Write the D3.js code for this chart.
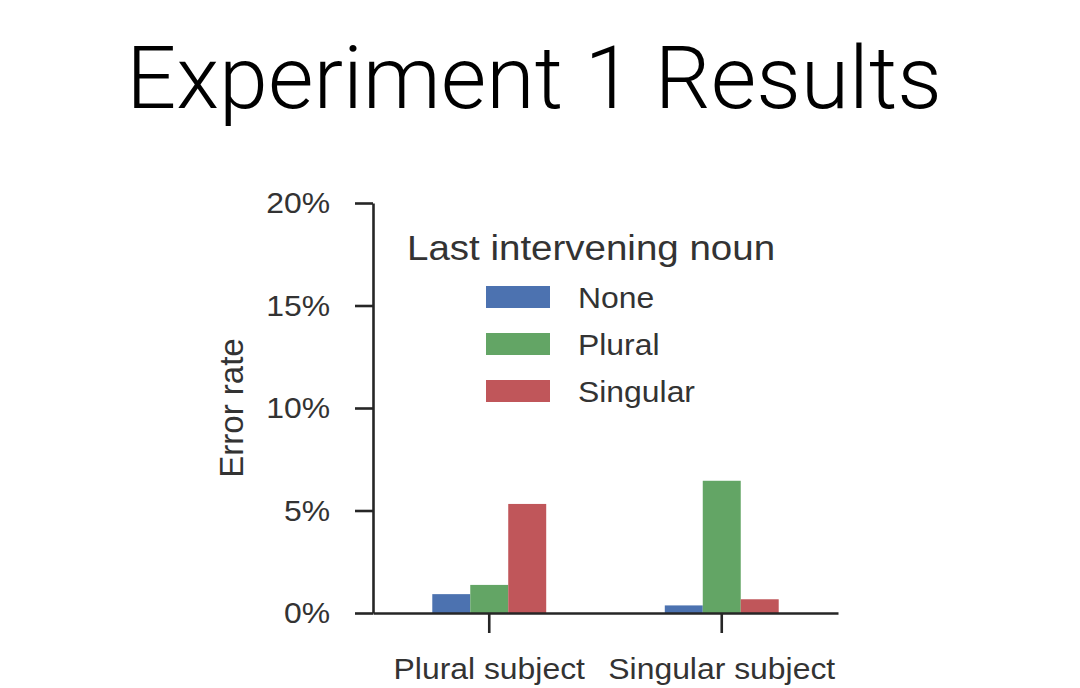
<!DOCTYPE html>
<html>
<head>
<meta charset="utf-8">
<script src="https://cdn.jsdelivr.net/npm/d3@7"></script>
<style>
  html, body { margin: 0; padding: 0; background: #ffffff; }
  svg { display: block; }
</style>
</head>
<body>
<svg id="chart" width="1080" height="688"></svg>
<script>
// ---- data ----
const title = "Experiment 1 Results";
const categories = ["Plural subject", "Singular subject"];
const seriesNames = ["None", "Plural", "Singular"];
const noneValues = [0.0092, 0.0037];
const pluralValues = [0.0137, 0.0645];
const singularValues = [0.0532, 0.0067];
const yTicks = [0, 0.05, 0.10, 0.15, 0.20];
const yTickLabels = ["0%", "5%", "10%", "15%", "20%"];
const yLabel = "Error rate";
const legendTitle = "Last intervening noun";
const colors = ["#4c72b0", "#63a565", "#c0565a"];

const seriesValues = [noneValues, pluralValues, singularValues];

// ---- layout ----
const svg = d3.select("#chart");
const inkColor = "#262626";
const font = "'Liberation Sans', Arial, sans-serif";
const sx = 1.1; // horizontal stretch of the source image text
const plot = { left: 373, right: 838, top: 203, bottom: 613 };

svg.append("text")
  .attr("x", 534).attr("y", 108)
  .attr("text-anchor", "middle")
  .attr("font-family", "Roboto, 'Liberation Sans', sans-serif")
  .attr("font-weight", 300)
  .attr("font-size", 88)
  .attr("fill", "#000")
  .text(title);

const x0 = d3.scaleBand().domain(categories).range([plot.left, plot.right]).padding(0);
const x1 = d3.scaleBand().domain(seriesNames).range([-x0.bandwidth() * 0.245, x0.bandwidth() * 0.245]).padding(0);
const y = d3.scaleLinear().domain([0, 0.20]).range([plot.bottom, plot.top]);

// bars
const groups = svg.append("g").selectAll("g")
  .data(categories).join("g")
  .attr("transform", d => `translate(${x0(d) + x0.bandwidth() / 2},0)`);

groups.selectAll("rect")
  .data((c, ci) => seriesNames.map((s, si) => ({ s, si, v: seriesValues[si][ci] })))
  .join("rect")
  .attr("x", d => x1(d.s))
  .attr("width", x1.bandwidth())
  .attr("y", d => y(d.v))
  .attr("height", d => y(0) - y(d.v))
  .attr("fill", d => colors[d.si]);

// y axis
const yAxis = d3.axisLeft(y).tickValues(yTicks)
  .tickFormat((d, i) => yTickLabels[i]).tickSize(18).tickSizeOuter(0);
const gy = svg.append("g").attr("transform", `translate(${plot.left},0)`).call(yAxis);
gy.select(".domain").attr("stroke", inkColor).attr("stroke-width", 2.6);
gy.selectAll(".tick line").attr("stroke", inkColor).attr("stroke-width", 2.6);
gy.selectAll(".tick text")
  .attr("font-family", font).attr("font-size", 29).attr("fill", "#333")
  .attr("x", -43 / sx).attr("dy", "0.33em")
  .attr("transform", `scale(${sx},1)`);

// x axis
const xAxis = d3.axisBottom(x0).tickSize(20).tickSizeOuter(0);
const gx = svg.append("g").attr("transform", `translate(0,${plot.bottom})`).call(xAxis);
gx.select(".domain").attr("stroke", inkColor).attr("stroke-width", 2.6);
gx.selectAll(".tick line").attr("stroke", inkColor).attr("stroke-width", 2.6);
gx.selectAll(".tick text")
  .attr("font-family", font).attr("font-size", 29).attr("fill", "#333")
  .attr("y", 66).attr("dy", 0)
  .attr("transform", `scale(${sx},1)`);

// y label
svg.append("text")
  .attr("transform", `translate(243,408) rotate(-90)`)
  .attr("text-anchor", "middle")
  .attr("font-family", font).attr("font-size", 33).attr("fill", "#333")
  .text(yLabel);

// legend
const legend = svg.append("g");
legend.append("text")
  .attr("transform", `translate(407,260) scale(${sx},1)`)
  .attr("font-family", font).attr("font-size", 35).attr("fill", "#333")
  .text(legendTitle);

const items = legend.selectAll("g.item").data(seriesNames).join("g")
  .attr("class", "item")
  .attr("transform", (d, i) => `translate(486,${297 + i * 47})`);
items.append("rect")
  .attr("x", 0).attr("y", -11).attr("width", 64).attr("height", 22)
  .attr("fill", (d, i) => colors[i]);
items.append("text")
  .attr("transform", `translate(92,11) scale(${sx},1)`)
  .attr("font-family", font).attr("font-size", 29).attr("fill", "#333")
  .text(d => d);
</script>
</body>
</html>
